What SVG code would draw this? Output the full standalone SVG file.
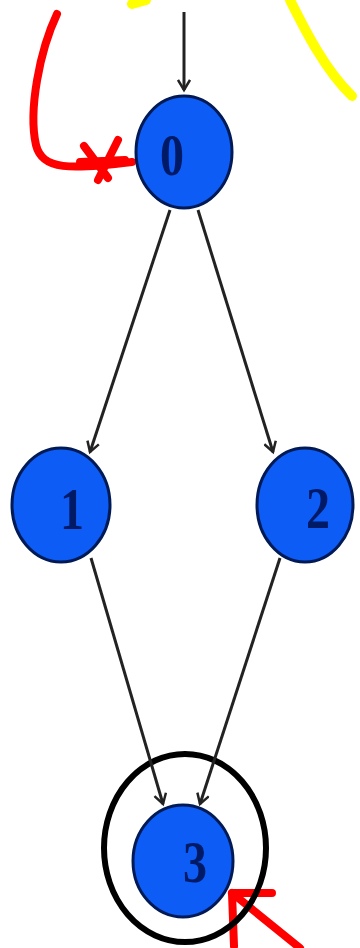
<svg xmlns="http://www.w3.org/2000/svg" width="360" height="948" viewBox="0 0 360 948">
<defs>
<style>
.node{fill:#0d5cf5;stroke:#001a55;stroke-width:3}
.lbl{font-family:"Liberation Serif",serif;font-weight:bold;font-size:60px;fill:#001a66;text-anchor:middle}
.edge{stroke:#222;stroke-width:3;fill:none}
.red{stroke:#f00;stroke-width:8;fill:none;stroke-linecap:round;stroke-linejoin:round}
.yel{stroke:#ffff00;stroke-width:10;fill:none;stroke-linecap:round}
</style>
<marker id="arr" markerWidth="14" markerHeight="14" refX="11" refY="7" orient="auto" markerUnits="userSpaceOnUse">
<path d="M1 1 L11 7 L1 13" fill="none" stroke="#222" stroke-width="2.5"/>
</marker>
</defs>
<g id="annotations">
<path class="yel" d="M132 4 L146 0"/>
<path class="yel" d="M290 0 C305 30 325 70 352 96"/>
<path class="red" d="M57 14 C40 50 28 110 36 145 C42 170 70 170 132 162"/>
<path class="red" d="M84 146 L108 178 M118 140 L98 180 M80 162 L125 160"/>
<path class="red" d="M232 893 L300 948"/>
<path class="red" d="M232 893 L272 893 M232 893 L234 946"/>
<ellipse cx="185" cy="848" rx="81" ry="94" fill="none" stroke="#000" stroke-width="6"/>
</g>
<g id="connectors">
<line class="edge" x1="184" y1="12" x2="184" y2="90" marker-end="url(#arr)"/>
<line class="edge" x1="170" y1="210" x2="90" y2="452" marker-end="url(#arr)"/>
<line class="edge" x1="198" y1="210" x2="273" y2="452" marker-end="url(#arr)"/>
<line class="edge" x1="91" y1="558" x2="163" y2="804" marker-end="url(#arr)"/>
<line class="edge" x1="280" y1="558" x2="200" y2="804" marker-end="url(#arr)"/>
</g>
<g id="node0"><ellipse class="node" cx="184" cy="152" rx="48" ry="56"/><text class="lbl" transform="translate(172 175) scale(0.8 1)">0</text></g>
<g id="node1"><ellipse class="node" cx="61" cy="505" rx="49" ry="57"/><text class="lbl" transform="translate(72 529) scale(0.8 1)">1</text></g>
<g id="node2"><ellipse class="node" cx="305" cy="505" rx="48" ry="57"/><text class="lbl" transform="translate(318 528) scale(0.8 1)">2</text></g>
<g id="node3"><ellipse class="node" cx="183" cy="861" rx="50" ry="56"/><text class="lbl" transform="translate(195 882) scale(0.8 1)">3</text></g>
</svg>
